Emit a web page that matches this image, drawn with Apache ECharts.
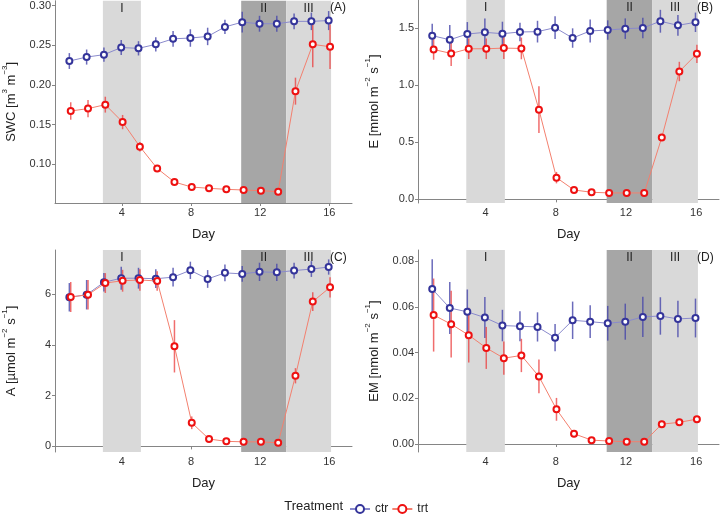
<!DOCTYPE html>
<html><head><meta charset="utf-8">
<script src="https://cdn.jsdelivr.net/npm/echarts@6/dist/echarts.min.js"></script>
<style>html,body{margin:0;padding:0;background:#fff}#c{width:720px;height:517px}</style>
</head><body><div id="c"></div>
<script>
const days = [1,2,3,4,5,6,7,8,9,10,11,12,13,14,15,16];
const xTicks = [4,8,12,16];
const DODGE = 0.04;
// Panel A: SWC
const swcCtr   = [0.230,0.235,0.238,0.247,0.246,0.251,0.258,0.259,0.261,0.273,0.279,0.277,0.277,0.280,0.280,0.281];
const swcCtrSe = [0.010,0.0095,0.009,0.0095,0.009,0.009,0.010,0.011,0.011,0.009,0.013,0.010,0.010,0.010,0.011,0.012];
const swcTrt   = [0.167,0.170,0.175,0.153,0.122,0.0946,0.0774,0.0711,0.0695,0.0682,0.0674,0.0665,0.0653,0.192,0.251,0.248];
const swcTrtSe = [0.011,0.011,0.010,0.009,0.006,0.003,0.002,0.0015,0.0012,0.001,0.001,0.001,0.001,0.017,0.029,0.028];
const swcTicks = [0.10,0.15,0.20,0.25,0.30];
// Panel B: E
const eCtr   = [1.433,1.397,1.447,1.462,1.450,1.465,1.468,1.503,1.412,1.474,1.482,1.494,1.500,1.559,1.523,1.550];
const eCtrSe = [0.105,0.13,0.105,0.12,0.105,0.08,0.095,0.10,0.085,0.10,0.085,0.09,0.09,0.10,0.09,0.085];
const eTrt   = [1.312,1.277,1.318,1.318,1.324,1.321,0.785,0.190,0.082,0.062,0.056,0.056,0.056,0.542,1.119,1.274];
const eTrtSe = [0.09,0.11,0.09,0.09,0.095,0.095,0.205,0.05,0.02,0.01,0.008,0.008,0.008,0.03,0.085,0.08];
const eTicks = [0.0,0.5,1.0,1.5];
// Panel C: A
const aCtr   = [5.87,5.97,6.46,6.62,6.62,6.60,6.66,6.93,6.59,6.83,6.79,6.87,6.85,6.92,6.98,7.06];
const aCtrSe = [0.56,0.58,0.36,0.45,0.41,0.37,0.37,0.34,0.35,0.33,0.31,0.36,0.34,0.31,0.31,0.30];
const aTrt   = [5.88,5.97,6.43,6.52,6.55,6.51,3.94,0.93,0.29,0.20,0.18,0.18,0.14,2.78,5.70,6.26];
const aTrtSe = [0.59,0.58,0.39,0.43,0.42,0.38,1.03,0.25,0.06,0.04,0.03,0.03,0.03,0.30,0.37,0.40];
const aTicks = [0,2,4,6];
// Panel D: EM
const emCtr   = [0.0679,0.0596,0.0579,0.0554,0.0519,0.0516,0.0513,0.0466,0.0542,0.0536,0.0529,0.0536,0.0557,0.0561,0.0548,0.0552];
const emCtrSe = [0.013,0.0114,0.0098,0.009,0.0069,0.0066,0.0064,0.006,0.0082,0.0072,0.0076,0.0079,0.0088,0.0082,0.008,0.0085];
const emTrt   = [0.0565,0.0525,0.0477,0.0421,0.0376,0.0388,0.0296,0.0152,0.0045,0.0017,0.0013,0.001,0.001,0.0087,0.0095,0.0109];
const emTrtSe = [0.016,0.0146,0.012,0.0092,0.0073,0.0073,0.0074,0.005,0.0015,0.0008,0.0005,0.0005,0.0005,0.0015,0.001,0.001];
const emTicks = [0.00,0.02,0.04,0.06,0.08];
// Phases
const phaseNames = ['I','II','III'];
const phaseStart = [2.9,10.9,13.5];
const phaseEnd   = [5.1,13.5,16.1];
const panelTags = ['(A)','(B)','(C)','(D)'];

const FONT = 'Liberation Sans, Arial, sans-serif';
const CTR = '#34349a', TRT = '#ee1111';
const CTR_LINE = '#8a8acc', TRT_LINE = '#f3806f';
const CTR_ERR = 'rgba(70,70,170,0.8)', TRT_ERR = 'rgba(235,60,60,0.75)';
const phaseColors = ['#d9d9d9','#a6a6a6','#d9d9d9'];

const panels = [
  {ctr: swcCtr, ctrSe: swcCtrSe, trt: swcTrt, trtSe: swcTrtSe, ticks: swcTicks, min: 0.051, max: 0.306, dec: 2,
   name: '{t|SWC [m}{s|3}{t| m}{s|−3}{t|]}', grid: {left: 50, top: 0, width: 302, height: 203}, xmin: 0.13, xmax: 17.31},
  {ctr: eCtr, ctrSe: eCtrSe, trt: eTrt, trtSe: eTrtSe, ticks: eTicks, min: -0.032, max: 1.745, dec: 1,
   name: '{t|E [mmol m}{s|−2}{t| s}{s|−1}{t|]}', grid: {left: 418, top: 0, width: 301, height: 203}, xmin: 0.15, xmax: 17.3},
  {ctr: aCtr, ctrSe: aCtrSe, trt: aTrt, trtSe: aTrtSe, ticks: aTicks, min: -0.22, max: 7.73, dec: 0,
   name: '{t|A [µmol m}{s|−2}{t| s}{s|−1}{t|]}', grid: {left: 50, top: 250, width: 302, height: 202}, xmin: 0.13, xmax: 17.31},
  {ctr: emCtr, ctrSe: emCtrSe, trt: emTrt, trtSe: emTrtSe, ticks: emTicks, min: -0.0035, max: 0.085, dec: 2,
   name: '{t|EM [nmol m}{s|−2}{t| s}{s|−1}{t|]}', grid: {left: 418, top: 250, width: 301, height: 202}, xmin: 0.15, xmax: 17.3}
];

const grids = [], xAxes = [], yAxes = [], series = [], graphics = [];
const axisLine = {show: true, lineStyle: {color: '#858585', width: 1}};
const axisTick = {show: true, length: 3, lineStyle: {color: '#858585'}};

function errRender(params, api) {
  const x = api.value(0);
  const lo = api.coord([x, api.value(1)]);
  const hi = api.coord([x, api.value(2)]);
  return {type: 'line', shape: {x1: lo[0], y1: lo[1], x2: hi[0], y2: hi[1]},
          style: {stroke: api.visual('color'), lineWidth: 1.5}};
}

panels.forEach((p, i) => {
  grids.push(p.grid);
  xAxes.push({type: 'value', gridIndex: i, min: p.xmin, max: p.xmax,
    name: 'Day', nameLocation: 'middle', nameGap: 25,
    nameTextStyle: {fontFamily: FONT, fontSize: 13, color: '#222'},
    axisLine, axisTick: Object.assign({customValues: xTicks}, axisTick),
    axisLabel: {customValues: xTicks, fontFamily: FONT, fontSize: 11, color: '#333', margin: 4},
    splitLine: {show: false}});
  yAxes.push({type: 'value', gridIndex: i, min: p.min, max: p.max,
    name: p.name, nameLocation: 'middle', nameGap: 37, nameRotate: 90,
    nameTextStyle: {fontFamily: FONT, color: '#222',
      rich: {t: {fontFamily: FONT, fontSize: 13, color: '#222', lineHeight: 17, verticalAlign: 'bottom'},
             s: {fontFamily: FONT, fontSize: 8, color: '#222', lineHeight: 17, verticalAlign: 'top'}}},
    axisLine, axisTick: Object.assign({customValues: p.ticks}, axisTick),
    axisLabel: {customValues: p.ticks, fontFamily: FONT, fontSize: 11, color: '#333', margin: 4,
      formatter: v => v.toFixed(p.dec)},
    splitLine: {show: false}});
  // shaded phases
  series.push({type: 'line', xAxisIndex: i, yAxisIndex: i, data: [], z: 1, silent: true,
    markArea: {silent: true,
      label: {show: true, position: 'insideTop', distance: 2, fontFamily: FONT, fontSize: 12, color: '#222'},
      data: phaseNames.map((n, k) => [
        {name: n, xAxis: phaseStart[k], itemStyle: {color: phaseColors[k], opacity: 1}},
        {xAxis: phaseEnd[k]}])}});
  // lines + points
  series.push({type: 'line', name: 'ctr', xAxisIndex: i, yAxisIndex: i, z: 4,
    data: days.map((d, k) => [d - DODGE, p.ctr[k]]),
    symbol: 'circle', symbolSize: 6,
    itemStyle: {color: '#fff', borderColor: CTR, borderWidth: 2},
    lineStyle: {color: CTR_LINE, width: 1}, emphasis: {disabled: true}});
  series.push({type: 'line', name: 'trt', xAxisIndex: i, yAxisIndex: i, z: 5,
    data: days.map((d, k) => [d + DODGE, p.trt[k]]),
    symbol: 'circle', symbolSize: 6,
    itemStyle: {color: '#fff', borderColor: TRT, borderWidth: 2},
    lineStyle: {color: TRT_LINE, width: 1}, emphasis: {disabled: true}});
  // error bars
  series.push({type: 'custom', name: 'ctr', xAxisIndex: i, yAxisIndex: i, z: 2,
    itemStyle: {color: CTR_ERR}, renderItem: errRender,
    encode: {x: 0, y: [1, 2]},
    data: days.map((d, k) => [d - DODGE, p.ctr[k] - p.ctrSe[k], p.ctr[k] + p.ctrSe[k]])});
  series.push({type: 'custom', name: 'trt', xAxisIndex: i, yAxisIndex: i, z: 3,
    itemStyle: {color: TRT_ERR}, renderItem: errRender,
    encode: {x: 0, y: [1, 2]},
    data: days.map((d, k) => [d + DODGE, p.trt[k] - p.trtSe[k], p.trt[k] + p.trtSe[k]])});
  graphics.push({type: 'text', z: 100, left: p.grid.left + p.grid.width - 22, top: p.grid.top + 2,
    style: {text: panelTags[i], font: '12px ' + FONT, fill: '#222'}});
});

graphics.push({type: 'text', z: 100, right: 720 - 343, top: 500,
  style: {text: 'Treatment', font: '13px ' + FONT, fill: '#222'}});

const chart = echarts.init(document.getElementById('c'), null, {renderer: 'canvas'});
chart.setOption({
  animation: false,
  grid: grids, xAxis: xAxes, yAxis: yAxes, series,
  graphic: graphics,
  legend: {data: ['ctr', 'trt'], left: 344, top: 498, itemWidth: 20, itemHeight: 10, itemGap: 3,
    textStyle: {fontFamily: FONT, fontSize: 12, color: '#222'}}
});
</script></body></html>
